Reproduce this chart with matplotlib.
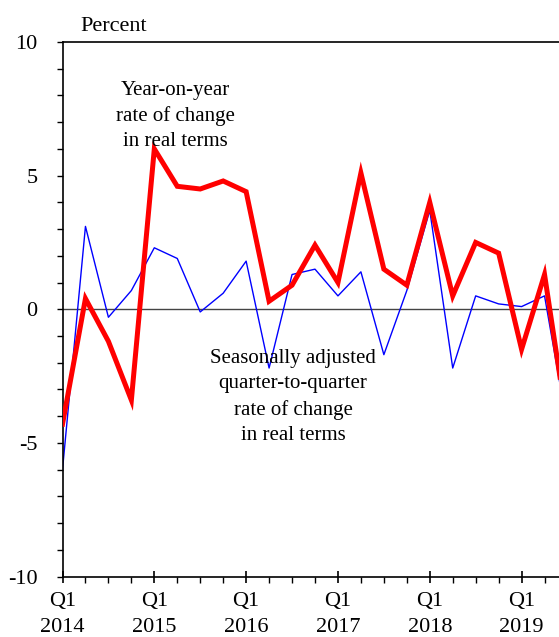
import numpy as np
import matplotlib.pyplot as plt
from matplotlib.ticker import MultipleLocator

plt.rcParams['font.family'] = ['Liberation Serif', 'DejaVu Serif']

# quarters from Q1 2014 to Q3 2019
quarters = ["Q1 2014", "Q2 2014", "Q3 2014", "Q4 2014",
            "Q1 2015", "Q2 2015", "Q3 2015", "Q4 2015",
            "Q1 2016", "Q2 2016", "Q3 2016", "Q4 2016",
            "Q1 2017", "Q2 2017", "Q3 2017", "Q4 2017",
            "Q1 2018", "Q2 2018", "Q3 2018", "Q4 2018",
            "Q1 2019", "Q2 2019", "Q3 2019"]
yoy = [-4.3, 0.4, -1.2, -3.4,
       6.0, 4.6, 4.5, 4.8,
       4.4, 0.3, 0.9, 2.4,
       1.0, 5.1, 1.5, 0.9,
       4.0, 0.5, 2.5, 2.1,
       -1.5, 1.3, -4.4]
qoq = [-6.0, 3.1, -0.3, 0.7,
       2.3, 1.9, -0.1, 0.6,
       1.8, -2.2, 1.3, 1.5,
       0.5, 1.4, -1.7, 0.7,
       3.7, -2.2, 0.5, 0.2,
       0.1, 0.5, -4.4]
year_labels = ["Q1\n2014", "Q1\n2015", "Q1\n2016", "Q1\n2017", "Q1\n2018", "Q1\n2019"]

x = np.arange(len(quarters))

fig = plt.figure(figsize=(5.59, 6.37), dpi=100)
ax = fig.add_axes([62.5/559, 1-576.5/637, 1-62.5/559, (576.5-42)/637])

ax.axhline(0, color='#444444', lw=1.0, zorder=1)
ax.plot(x, qoq, color='#0000ff', lw=1.0, zorder=2)
ax.plot(x, yoy, color='#ff0000', lw=3.6, zorder=3, solid_joinstyle='miter')

ax.set_xlim(0, 21.63)
ax.set_ylim(-10, 10)

ax.set_xticks(x[::4])
ax.set_xticklabels(year_labels, fontsize=16, linespacing=1.45)
ax.xaxis.set_minor_locator(MultipleLocator(1))
ax.tick_params(axis='x', which='major', direction='inout', length=9, width=1.2, pad=7)
ax.tick_params(axis='x', which='minor', direction='out', length=4, width=1.0)

ax.set_yticks([-10, -5, 0, 5, 10])
ax.set_yticklabels(["-10", "-5", "0", "5", "10"], fontsize=16)
ax.yaxis.set_minor_locator(MultipleLocator(1))
ax.tick_params(axis='y', which='both', direction='out', length=4, width=1.0, pad=14)

ax.spines['right'].set_visible(False)
for s in ['left', 'bottom', 'top']:
    ax.spines[s].set_linewidth(1.2)

ax.text(4.9, 7.23, "Year-on-year\nrate of change\nin real terms",
        ha='center', va='center', fontsize=15, linespacing=1.45)
ax.text(10.04, -3.28, "Seasonally adjusted\nquarter-to-quarter\nrate of change\nin real terms",
        ha='center', va='center', fontsize=15, linespacing=1.45)

fig.text(80/559, 1-31/637, "Percent", ha='left', va='baseline', fontsize=16)

fig.savefig("out.png", dpi=100)
